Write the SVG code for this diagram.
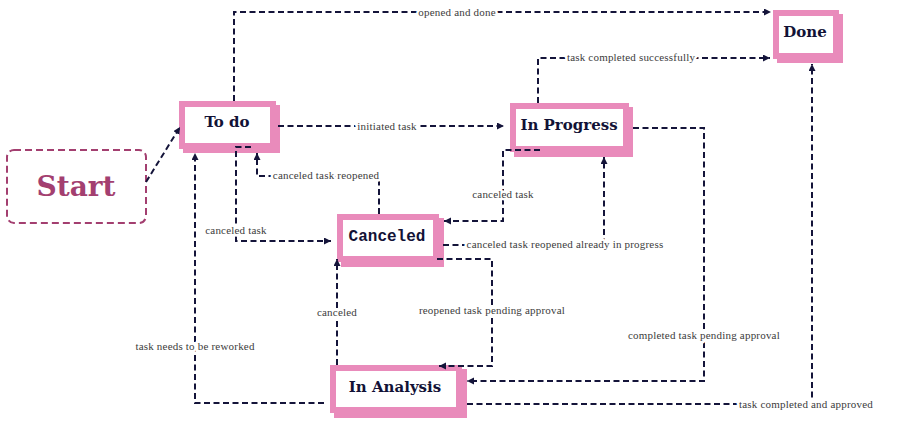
<svg xmlns="http://www.w3.org/2000/svg" width="911" height="433" viewBox="0 0 911 433">
<style>
.shadow{fill:#e98bbb}
.box{fill:#ffffff;stroke:#e98bbb;stroke-width:6}
.ntext{font-family:"DejaVu Serif",serif;font-weight:bold;font-size:15px;fill:#121236;text-anchor:middle}
.mono{font-family:"Liberation Mono",monospace;font-weight:bold;font-size:16px;fill:#121236;text-anchor:middle}
.edge{fill:none;stroke:#14143a;stroke-width:2;stroke-dasharray:6 3.5;marker-end:url(#arr)}
.lbl{font-family:"Liberation Serif",serif;font-size:11px;letter-spacing:0.2px;fill:#3c3c3c;text-anchor:middle;stroke:#ffffff;stroke-width:5;paint-order:stroke;stroke-linejoin:round}
</style>
<defs>
<marker id="arr" markerUnits="userSpaceOnUse" markerWidth="8" markerHeight="8" refX="7" refY="3.5" orient="auto">
<path d="M0,0 L7,3.5 L0,7 z" fill="#14143a"/>
</marker>
</defs>
<rect width="911" height="433" fill="#ffffff"/>
<g id="start">
<rect x="7" y="150" width="139" height="73" rx="7" fill="#ffffff" stroke="#a33f70" stroke-width="2" stroke-dasharray="7 4"/>
<text x="76" y="196" style="font-family:'DejaVu Serif',serif;font-weight:bold;font-size:28px;fill:#a33f70;text-anchor:middle">Start</text>
</g>
<g id="todo">
<rect class="shadow" x="183" y="105" width="97" height="48"/>
<rect class="box" x="182" y="104" width="91" height="42"/>
<text class="ntext" x="227" y="127">To do</text>
</g>
<g id="inprogress">
<rect class="shadow" x="514" y="107" width="119" height="50"/>
<rect class="box" x="513" y="106" width="113" height="43"/>
<text class="ntext" x="569" y="130">In Progress</text>
</g>
<g id="done">
<rect class="shadow" x="777" y="14" width="66" height="49"/>
<rect class="box" x="776" y="13" width="60" height="43"/>
<text class="ntext" x="805" y="37">Done</text>
</g>
<g id="canceled">
<rect class="shadow" x="341" y="218" width="103" height="49"/>
<rect class="box" x="340" y="217" width="96" height="42"/>
<text class="mono" x="387" y="241">Canceled</text>
</g>
<g id="inanalysis">
<rect class="shadow" x="334" y="369" width="133" height="49"/>
<rect class="box" x="333" y="368" width="126" height="42"/>
<text class="ntext" x="395" y="392">In Analysis</text>
</g>
<g id="connectors">
<path class="edge" d="M146,182 L180,127"/>
<path class="edge" d="M234,101 V12 H771"/>
<path class="edge" d="M278,126 H504"/>
<path class="edge" d="M538,103 V58 H770"/>
<path class="edge" d="M540,150 H503 V221 H444"/>
<path class="edge" d="M443,245 H604 V157"/>
<path class="edge" d="M251,147 H236 V241 H331"/>
<path class="edge" d="M379,214 V176 H257 V153"/>
<path class="edge" d="M437,259 H492 V366 H439"/>
<path class="edge" d="M337,365 V259"/>
<path class="edge" d="M324,403 H195 V153"/>
<path class="edge" d="M633,128 H704 V381 H467"/>
<path class="edge" d="M467,404 H812 V64"/>
<text class="lbl" x="457" y="16">opened and done</text>
<text class="lbl" x="387" y="130">initiated task</text>
<text class="lbl" x="631" y="61">task completed successfully</text>
<text class="lbl" x="503" y="198">canceled task</text>
<text class="lbl" x="565" y="248">canceled task reopened already in progress</text>
<text class="lbl" x="236" y="234">canceled task</text>
<text class="lbl" x="326" y="179">canceled task reopened</text>
<text class="lbl" x="492" y="314">reopened task pending approval</text>
<text class="lbl" x="337" y="316">canceled</text>
<text class="lbl" x="195" y="350">task needs to be reworked</text>
<text class="lbl" x="704" y="339">completed task pending approval</text>
<text class="lbl" x="806" y="408">task completed and approved</text>
</g>
</svg>
